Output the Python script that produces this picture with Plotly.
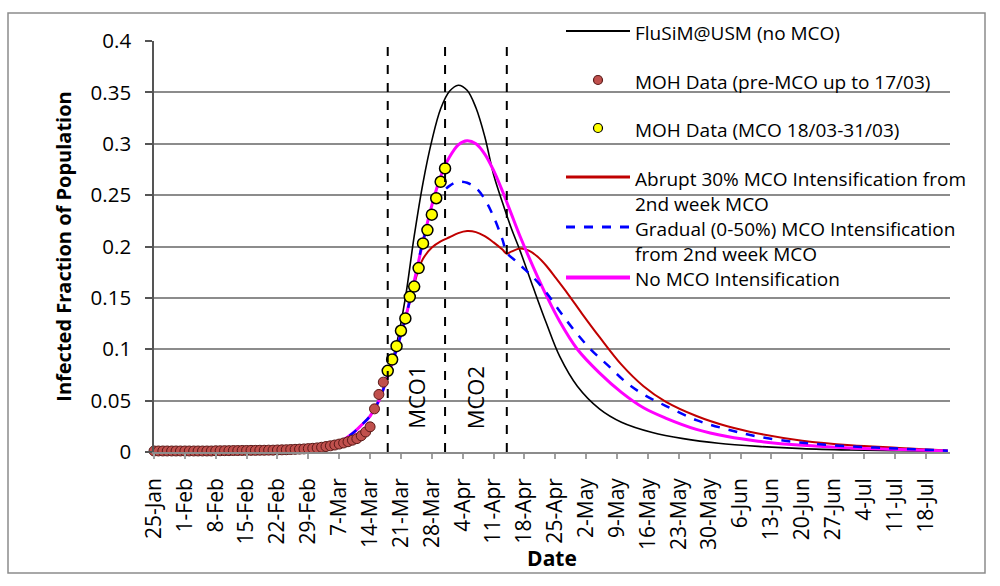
import plotly.graph_objects as go
import pandas as pd

# ---------------- data ----------------
pre_dates = pd.date_range("2020-01-25", "2020-03-17", freq="D").strftime("%Y-%m-%d").tolist()
pre_vals = [0.001, 0.001, 0.001, 0.001, 0.001, 0.001, 0.001,
            0.001, 0.001, 0.001, 0.001, 0.001, 0.001, 0.001,
            0.0012, 0.0012, 0.0013, 0.0013, 0.0014, 0.0014, 0.0015,
            0.0015, 0.0016, 0.0016, 0.0017, 0.0017, 0.0018, 0.0018,
            0.002, 0.0021, 0.0022, 0.0024, 0.0026, 0.0028, 0.003, 0.0033,
            0.0036, 0.004, 0.0046, 0.0053, 0.006, 0.0068, 0.0077, 0.0088, 0.01,
            0.0115, 0.013, 0.0158, 0.0195, 0.0245, 0.042, 0.056, 0.068]

mco_dates = pd.date_range("2020-03-18", "2020-03-31", freq="D").strftime("%Y-%m-%d").tolist()
mco_vals = [0.079, 0.090, 0.103, 0.118, 0.130, 0.151, 0.161,
            0.179, 0.203, 0.216, 0.231, 0.247, 0.263, 0.276]

early_dates = ["2020-01-25", "2020-02-08", "2020-02-22", "2020-03-01", "2020-03-05",
               "2020-03-08", "2020-03-10", "2020-03-12", "2020-03-14", "2020-03-16",
               "2020-03-18"]
early_vals = [0.0003, 0.0006, 0.0015, 0.0035, 0.007, 0.012, 0.018, 0.026, 0.035, 0.05, 0.074]

nomco_dates = early_dates + ["2020-03-20", "2020-03-22", "2020-03-24", "2020-03-26", "2020-03-28",
                             "2020-03-30", "2020-04-01", "2020-04-03", "2020-04-05", "2020-04-07",
                             "2020-04-09", "2020-04-11", "2020-04-13", "2020-04-15", "2020-04-17",
                             "2020-04-20", "2020-04-23", "2020-04-26", "2020-04-30", "2020-05-05",
                             "2020-05-10", "2020-05-17", "2020-05-24", "2020-06-01", "2020-06-10",
                             "2020-06-20", "2020-07-01", "2020-07-12", "2020-07-23"]
nomco_vals = early_vals + [0.105, 0.15, 0.21, 0.262, 0.303, 0.334, 0.351, 0.357, 0.352, 0.335,
                           0.307, 0.27, 0.243, 0.218, 0.196, 0.16, 0.125, 0.093, 0.064, 0.042,
                           0.029, 0.019, 0.013, 0.0085, 0.0055, 0.0033, 0.002, 0.0012, 0.0006]

noint_dates = early_dates + ["2020-03-20", "2020-03-22", "2020-03-24", "2020-03-26", "2020-03-28",
                             "2020-03-30", "2020-04-01", "2020-04-03", "2020-04-05", "2020-04-07",
                             "2020-04-09", "2020-04-11", "2020-04-13", "2020-04-15", "2020-04-17",
                             "2020-04-20", "2020-04-23", "2020-04-26", "2020-04-30", "2020-05-05",
                             "2020-05-10", "2020-05-15", "2020-05-20", "2020-05-27", "2020-06-03",
                             "2020-06-10", "2020-06-20", "2020-07-01", "2020-07-12", "2020-07-23"]
noint_vals = early_vals + [0.1, 0.13, 0.166, 0.205, 0.24, 0.268, 0.287, 0.299, 0.303, 0.3,
                           0.29, 0.274, 0.254, 0.232, 0.21, 0.18, 0.152, 0.127, 0.1, 0.077,
                           0.058, 0.043, 0.033, 0.022, 0.015, 0.0105, 0.0065, 0.004, 0.0025, 0.001]

abrupt_dates = early_dates + ["2020-03-20", "2020-03-22", "2020-03-24", "2020-03-25", "2020-03-26",
                              "2020-03-28", "2020-03-30", "2020-04-01", "2020-04-03", "2020-04-05",
                              "2020-04-07", "2020-04-09", "2020-04-11", "2020-04-13", "2020-04-14",
                              "2020-04-15", "2020-04-17", "2020-04-19", "2020-04-21", "2020-04-23",
                              "2020-04-25", "2020-04-28", "2020-05-01", "2020-05-05", "2020-05-10",
                              "2020-05-15", "2020-05-20", "2020-05-27", "2020-06-03", "2020-06-10",
                              "2020-06-20", "2020-07-01", "2020-07-12", "2020-07-23"]
abrupt_vals = early_vals + [0.1, 0.13, 0.163, 0.178, 0.188, 0.199, 0.205, 0.209, 0.213, 0.215,
                            0.214, 0.21, 0.204, 0.197, 0.193, 0.195, 0.198, 0.196, 0.19, 0.181,
                            0.17, 0.153, 0.135, 0.112, 0.085, 0.064, 0.049, 0.035, 0.025, 0.018,
                            0.011, 0.0065, 0.004, 0.0015]

gradual_dates = early_dates + ["2020-03-20", "2020-03-22", "2020-03-24", "2020-03-26", "2020-03-28",
                               "2020-03-30", "2020-04-01", "2020-04-03", "2020-04-05", "2020-04-07",
                               "2020-04-09", "2020-04-11", "2020-04-13", "2020-04-14", "2020-04-16",
                               "2020-04-18", "2020-04-20", "2020-04-23", "2020-04-26", "2020-04-29",
                               "2020-05-03", "2020-05-07", "2020-05-11", "2020-05-15", "2020-05-20",
                               "2020-05-27", "2020-06-03", "2020-06-10", "2020-06-20", "2020-07-01",
                               "2020-07-12", "2020-07-23"]
gradual_vals = early_vals + [0.1, 0.13, 0.166, 0.205, 0.232, 0.25, 0.259, 0.263, 0.262, 0.257,
                             0.246, 0.229, 0.207, 0.194, 0.186, 0.178, 0.17, 0.155, 0.137, 0.12,
                             0.1, 0.084, 0.068, 0.056, 0.045, 0.031, 0.022, 0.015, 0.009, 0.0055,
                             0.0033, 0.0013]

tick_dates = pd.date_range("2020-01-25", "2020-07-18", freq="7D").strftime("%Y-%m-%d").tolist()
tick_labels = ["25-Jan", "1-Feb", "8-Feb", "15-Feb", "22-Feb", "29-Feb", "7-Mar", "14-Mar",
               "21-Mar", "28-Mar", "4-Apr", "11-Apr", "18-Apr", "25-Apr", "2-May", "9-May",
               "16-May", "23-May", "30-May", "6-Jun", "13-Jun", "20-Jun", "27-Jun", "4-Jul",
               "11-Jul", "18-Jul"]
y_ticks = [0, 0.05, 0.1, 0.15, 0.2, 0.25, 0.3, 0.35, 0.4]
y_labels = ["0", "0.05", "0.1", "0.15", "0.2", "0.25", "0.3", "0.35", "0.4"]

mco_line_dates = ["2020-03-18", "2020-03-31", "2020-04-14"]
phase_labels = ["MCO1", "MCO2"]
phase_dates = ["2020-03-24 06:00", "2020-04-06 18:00"]

legend_names = ["FluSiM@USM (no MCO)", "MOH Data (pre-MCO up to 17/03)", "MOH Data (MCO 18/03-31/03)",
                "Abrupt 30% MCO Intensification from<br>2nd week MCO",
                "Gradual (0-50%) MCO Intensification<br>from 2nd week MCO",
                "No MCO Intensification"]

# ---------------- layout geometry ----------------
W, H = 1000, 586
L, R, T, B = 154, 50, 41, 134
PW, PH = W - L - R, H - T - B
FONT = "Open Sans"


def px(x):
    return (x - L) / PW


def py(y):
    return (H - B - y) / PH


fig = go.Figure()

line_kw = dict(mode="lines", line_shape="spline", showlegend=False, hoverinfo="skip")
fig.add_trace(go.Scatter(x=nomco_dates, y=nomco_vals, line=dict(color="black", width=1.6), **line_kw))
fig.add_trace(go.Scatter(x=abrupt_dates, y=abrupt_vals, line=dict(color="#c00000", width=2), **line_kw))
fig.add_trace(go.Scatter(x=noint_dates, y=noint_vals, line=dict(color="#ff00ff", width=3), **line_kw))
fig.add_trace(go.Scatter(x=gradual_dates, y=gradual_vals,
                         line=dict(color="#0000ff", width=2.5, dash="dash"), **line_kw))
fig.add_trace(go.Scatter(x=pre_dates, y=pre_vals, mode="markers", showlegend=False, cliponaxis=False,
                         marker=dict(size=10, color="#c0504d", line=dict(color="#5a1a18", width=1))))
fig.add_trace(go.Scatter(x=mco_dates, y=mco_vals, mode="markers", showlegend=False, cliponaxis=False,
                         marker=dict(size=11, color="#ffff00", line=dict(color="black", width=1.5))))

shapes = []
# outer frame
shapes.append(dict(type="rect", xref="paper", yref="paper", x0=px(8), x1=px(985), y0=py(573), y1=py(13),
                   line=dict(color="#8c8c8c", width=1.5), fillcolor="rgba(0,0,0,0)", layer="below"))
# white patch behind legend symbols
shapes.append(dict(type="rect", xref="paper", yref="paper", x0=px(556), x1=px(633), y0=py(295), y1=py(46),
                   line=dict(width=0), fillcolor="white", layer="between"))
# MCO period dashed lines
for d in mco_line_dates:
    shapes.append(dict(type="line", xref="x", yref="y", x0=d, x1=d, y0=0, y1=0.4,
                       line=dict(color="black", width=2, dash="dash")))

annotations = []
for lab, d in zip(phase_labels, phase_dates):
    annotations.append(dict(x=d, y=0.053, xref="x", yref="y", text=lab, showarrow=False, textangle=-90,
                            font=dict(family=FONT, size=22, color="black")))

# manual legend
leg_y = [31, 80, 128, 177, 227, 277.5]
sym_x0, sym_x1, txt_x = 566, 630, 634
line_styles = {0: dict(color="black", width=2), 3: dict(color="#c00000", width=3),
               4: dict(color="#0000ff", width=3, dash="dash"), 5: dict(color="#ff00ff", width=4)}
LEG_FS = 19
for i, (name, yy) in enumerate(zip(legend_names, leg_y)):
    if i in line_styles:
        shapes.append(dict(type="line", xref="paper", yref="paper", x0=px(sym_x0), x1=px(sym_x1),
                           y0=py(yy), y1=py(yy), line=line_styles[i]))
    else:
        fill, edge = ("#c0504d", "#5a1a18") if i == 1 else ("#ffff00", "black")
        shapes.append(dict(type="circle", xref="paper", yref="paper", xsizemode="pixel", ysizemode="pixel",
                           xanchor=px(598), yanchor=py(yy), x0=-4.5, x1=4.5, y0=-4.5, y1=4.5,
                           fillcolor=fill, line=dict(color=edge, width=1.2)))
    annotations.append(dict(x=px(txt_x), y=py(yy - 0.65 * LEG_FS), xref="paper", yref="paper",
                            xanchor="left", yanchor="top", text=name, showarrow=False, align="left",
                            borderpad=0, font=dict(family=FONT, size=LEG_FS, color="black")))

fig.update_layout(
    width=W, height=H, margin=dict(l=L, r=R, t=T, b=B),
    paper_bgcolor="white", plot_bgcolor="white",
    font=dict(family=FONT, color="black"),
    shapes=shapes, annotations=annotations,
)
fig.update_xaxes(type="date", range=["2020-01-25", "2020-07-23 12:00"],
                 tickvals=tick_dates, ticktext=tick_labels, tickangle=-90,
                 tickfont=dict(family=FONT, size=21, color="black"),
                 ticks="outside", ticklen=5, tickcolor="#a0a0a0", tickwidth=1.5, ticklabelstandoff=11,
                 showgrid=False, zeroline=False, showline=True, linecolor="#8c8c8c", linewidth=1.5,
                 title=dict(text="<b>Date</b>", font=dict(family=FONT, size=21, color="black"), standoff=0))
fig.update_yaxes(range=[0, 0.4], tickvals=y_ticks, ticktext=y_labels,
                 tickfont=dict(family=FONT, size=20.5, color="black"),
                 ticks="outside", ticklen=7, tickcolor="#555555", tickwidth=1.5, ticklabelstandoff=10,
                 showgrid=True, gridcolor="#8c8c8c", gridwidth=1.5, zeroline=False,
                 showline=True, linecolor="#555555", linewidth=1.5,
                 title=dict(text="<b>Infected Fraction of Population</b>",
                            font=dict(family=FONT, size=20, color="black"), standoff=14))

fig.write_html("out.html")
